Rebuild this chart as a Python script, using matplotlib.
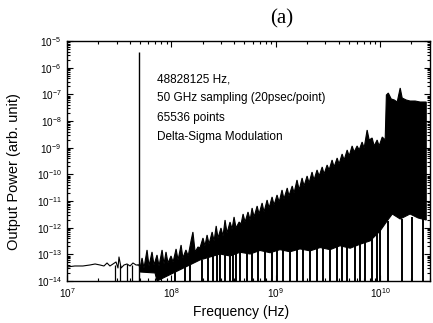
import numpy as np
import matplotlib
matplotlib.use("Agg")
import matplotlib.pyplot as plt
from matplotlib.ticker import LogLocator, NullFormatter

plt.rcParams['font.family'] = ['Liberation Sans', 'DejaVu Sans']

# ---------------- data ----------------
tone_freq = 48828125.0
tone_power = 3.9e-6

floor_freq = [1.00e7, 1.19e7, 1.42e7, 1.66e7, 1.86e7, 2.07e7, 2.26e7, 2.42e7, 2.58e7,
              2.76e7, 2.95e7, 3.08e7, 3.15e7, 3.30e7, 3.52e7, 3.76e7, 4.02e7, 4.29e7,
              4.59e7, 4.80e7]
floor_power = [3.36e-14, 3.66e-14, 3.66e-14, 3.99e-14, 4.35e-14, 3.99e-14, 3.66e-14,
               4.74e-14, 3.66e-14, 4.35e-14, 5.17e-14, 3.08e-14, 7.96e-14, 3.08e-14,
               3.99e-14, 4.35e-14, 3.66e-14, 4.74e-14, 3.99e-14, 3.99e-14]
floor_dip_freq = [2.88e7, 3.22e7, 3.76e7, 4.20e7]
floor_dip_top = [4.0e-14, 4.0e-14, 4.3e-14, 4.0e-14]

upper_freq = [5.01e7, 5.24e7, 5.47e7, 5.85e7, 6.11e7, 6.53e7, 6.82e7, 7.29e7, 7.62e7, 8.15e7,
              8.51e7, 8.89e7, 9.29e7, 9.93e7, 1.04e8, 1.11e8, 1.16e8, 1.24e8, 1.29e8, 1.38e8,
              1.45e8, 1.55e8, 1.61e8, 1.69e8, 1.80e8, 1.88e8, 2.01e8, 2.10e8, 2.20e8, 2.30e8,
              2.46e8, 2.57e8, 2.69e8, 2.80e8, 2.99e8, 3.13e8, 3.27e8, 3.42e8, 3.65e8, 3.82e8,
              3.99e8, 4.17e8, 4.46e8, 4.66e8, 4.87e8, 5.09e8, 5.43e8, 5.69e8, 5.94e8, 6.21e8,
              6.64e8, 6.93e8, 7.41e8, 7.74e8, 8.27e8, 8.65e8, 9.23e8, 9.66e8, 1.03e9, 1.08e9,
              1.15e9, 1.20e9, 1.29e9, 1.34e9, 1.44e9, 1.50e9, 1.60e9, 1.68e9, 1.79e9, 1.87e9,
              2.00e9, 2.09e9, 2.23e9, 2.33e9, 2.49e9, 2.61e9, 2.79e9, 2.91e9, 3.11e9, 3.25e9,
              3.47e9, 3.63e9, 3.88e9, 4.05e9, 4.33e9, 4.53e9, 4.84e9, 5.06e9, 5.40e9, 5.65e9,
              6.03e9, 6.31e9, 6.73e9, 7.04e9, 7.52e9, 7.87e9, 8.40e9, 8.78e9, 9.38e9, 9.80e9,
              1.05e10, 1.12e10, 1.15e10, 1.20e10, 1.28e10, 1.37e10, 1.46e10, 1.56e10, 1.63e10,
              1.78e10, 1.94e10, 2.17e10, 2.42e10, 2.77e10]
upper_power = [3.08e-14, 7.31e-14, 3.08e-14, 1.46e-13, 3.66e-14, 1.23e-13, 3.99e-14, 9.46e-14,
               3.66e-14, 1.46e-13, 4.35e-14, 1.23e-13, 4.74e-14, 8.69e-14, 5.17e-14, 1.59e-13,
               6.15e-14, 2.24e-13, 7.31e-14, 1.46e-13, 8.69e-14, 3.45e-13, 6.89e-13, 1.23e-13,
               1.89e-13, 1.73e-13, 4.10e-13, 2.06e-13, 5.32e-13, 2.44e-13, 6.89e-13, 3.17e-13,
               1.16e-12, 4.10e-13, 9.73e-13, 4.88e-13, 1.94e-12, 6.32e-13, 1.63e-12, 8.93e-13,
               2.52e-12, 9.73e-13, 1.63e-12, 1.37e-12, 3.26e-12, 1.63e-12, 3.87e-12, 1.94e-12,
               5.47e-12, 2.52e-12, 6.50e-12, 3.26e-12, 8.43e-12, 3.87e-12, 1.09e-11, 5.47e-12,
               1.42e-11, 7.10e-12, 1.68e-11, 9.19e-12, 2.59e-11, 1.19e-11, 3.08e-11, 1.54e-11,
               3.66e-11, 2.00e-11, 6.14e-11, 2.59e-11, 7.30e-11, 3.66e-11, 8.67e-11, 4.74e-11,
               1.22e-10, 6.14e-11, 1.46e-10, 8.67e-11, 1.89e-10, 1.03e-10, 2.24e-10, 1.46e-10,
               3.45e-10, 1.89e-10, 4.10e-10, 2.44e-10, 5.79e-10, 3.45e-10, 8.19e-10, 4.88e-10,
               1.16e-9, 6.89e-10, 1.16e-9, 8.19e-10, 1.63e-9, 9.73e-10, 4.60e-9, 1.94e-9,
               2.31e-9, 1.16e-9, 1.94e-9, 1.16e-9, 2.51e-9, 1.94e-9, 9.45e-8, 1.12e-7,
               6.69e-8, 6.14e-8, 5.16e-8, 1.73e-7, 7.29e-8, 6.14e-8, 5.62e-8, 5.62e-8,
               5.16e-8, 5.16e-8]

lower_freq = [5.01e7, 6.98e7, 7.29e7, 1.88e8, 2.35e8, 2.93e8, 3.65e8, 4.56e8, 5.69e8, 7.08e8,
              8.83e8, 1.10e9, 1.37e9, 1.71e9, 2.14e9, 2.67e9, 3.32e9, 4.14e9, 5.17e9, 6.44e9,
              8.04e9, 1.00e10, 1.15e10, 1.31e10, 1.56e10, 1.94e10, 2.32e10, 2.77e10]
lower_power = [2.18e-14, 2.00e-14, 1.0e-14, 6.15e-14, 7.96e-14, 1.03e-13, 8.69e-14, 1.20e-13,
               1.03e-13, 1.40e-13, 1.15e-13, 1.50e-13, 1.25e-13, 1.60e-13, 1.35e-13, 1.80e-13,
               1.50e-13, 2.10e-13, 1.70e-13, 2.40e-13, 3.20e-13, 7.50e-13, 1.63e-12, 3.26e-12,
               2.12e-12, 3.26e-12, 2.31e-12, 1.94e-12]

stroke_freq = [1.09e8, 1.35e8, 1.51e8, 1.97e8, 2.25e8, 2.51e8, 2.74e8, 2.93e8, 3.27e8, 3.65e8,
               3.91e8, 4.17e8, 4.56e8, 5.32e8, 5.94e8, 6.78e8, 7.91e8, 9.23e8, 1.03e9, 1.18e9,
               1.37e9, 1.60e9, 1.83e9, 2.14e9, 2.49e9, 2.85e9, 3.32e9, 3.88e9, 4.33e9, 4.84e9,
               5.77e9, 6.44e9, 7.20e9, 8.40e9, 9.38e9, 1.00e10, 1.20e10, 1.63e10, 2.03e10, 2.59e10]
stroke_top = [2.2e-14, 3.27e-14, 4.07e-14, 6.15e-14, 7.31e-14, 8.69e-14, 9.46e-14, 1.03e-13,
              9.46e-14, 8.69e-14, 1.03e-13, 1.12e-13, 1.34e-13, 1.23e-13, 1.12e-13, 1.34e-13,
              1.46e-13, 1.23e-13, 1.59e-13, 1.59e-13, 1.34e-13, 1.73e-13, 1.73e-13, 1.46e-13,
              1.89e-13, 1.89e-13, 1.73e-13, 2.24e-13, 2.44e-13, 2.06e-13, 2.67e-13, 2.67e-13,
              3.17e-13, 4.10e-13, 5.80e-13, 8.19e-13, 1.78e-12, 2.12e-12, 2.52e-12, 2.12e-12]

annotation_lines = ["48828125 Hz,", "50 GHz sampling (20psec/point)", "65536 points",
                    "Delta-Sigma Modulation"]
xticks = [1e7, 1e8, 1e9, 1e10]
yticks = [10.0 ** k for k in range(-14, -4)]

# ---------------- figure ----------------
fig = plt.figure(figsize=(4.33, 3.23), dpi=100)
ax = fig.add_axes([0.1547, 0.130, 0.838, 0.743])
ax.set_xscale('log')
ax.set_yscale('log')
ax.set_xlim(1e7, 3.0e10)
ax.set_ylim(1e-14, 1e-5)

# noise floor at low frequency
ax.plot(floor_freq, floor_power, color='black', lw=0.8)
ax.vlines(floor_dip_freq, 1e-14, floor_dip_top, color='black', lw=0.9)
# tone
ax.vlines([tone_freq], 1e-14, [tone_power], color='black', lw=1.0)
ax.plot([floor_freq[-1], tone_freq, upper_freq[0]], [floor_power[-1], 4e-14, upper_power[0]],
        color='black', lw=0.8)

# shaped noise band
poly_x = list(upper_freq) + list(lower_freq[::-1])
poly_y = list(upper_power) + list(lower_power[::-1])
ax.fill(poly_x, poly_y, facecolor='black', edgecolor='black', lw=0.8)
ax.vlines(stroke_freq, 1e-14, stroke_top, color='black', lw=1.4)

# ticks
ax.set_xticks(xticks)
ax.set_yticks(yticks)
ax.xaxis.set_minor_locator(LogLocator(base=10, subs=np.arange(2, 10), numticks=50))
ax.yaxis.set_minor_locator(LogLocator(base=10, subs=np.arange(2, 10), numticks=50))
ax.xaxis.set_minor_formatter(NullFormatter())
ax.yaxis.set_minor_formatter(NullFormatter())
ax.tick_params(which='both', direction='in', top=True, right=True, width=0.8, colors='black')
ax.tick_params(which='major', length=4, labelsize=7.2)
ax.tick_params(which='minor', length=2)
ax.tick_params(axis='y', pad=4)
ax.tick_params(axis='x', pad=4)
for s in ax.spines.values():
    s.set_linewidth(1.0)

ax.set_xlabel("Frequency (Hz)", fontsize=10)
ax.set_ylabel("Output Power (arb. unit)", fontsize=10.5)
ax.xaxis.set_label_coords((241 - 67) / 363, -(305 - 281) / 240)
ax.yaxis.set_label_coords(-(67 - 21) / 363, (281 - 172) / 240)

for i, line in enumerate(annotation_lines):
    ax.text(0.248, 0.84 - i * 0.0795, line, transform=ax.transAxes, fontsize=8.5,
            ha='left', va='center', color='black')

fig.text(282 / 433, 1 - 19 / 323, "(a)", family=['Liberation Serif', 'DejaVu Serif'],
         fontsize=15, ha='center', va='center')

fig.savefig("out.png", dpi=100)
